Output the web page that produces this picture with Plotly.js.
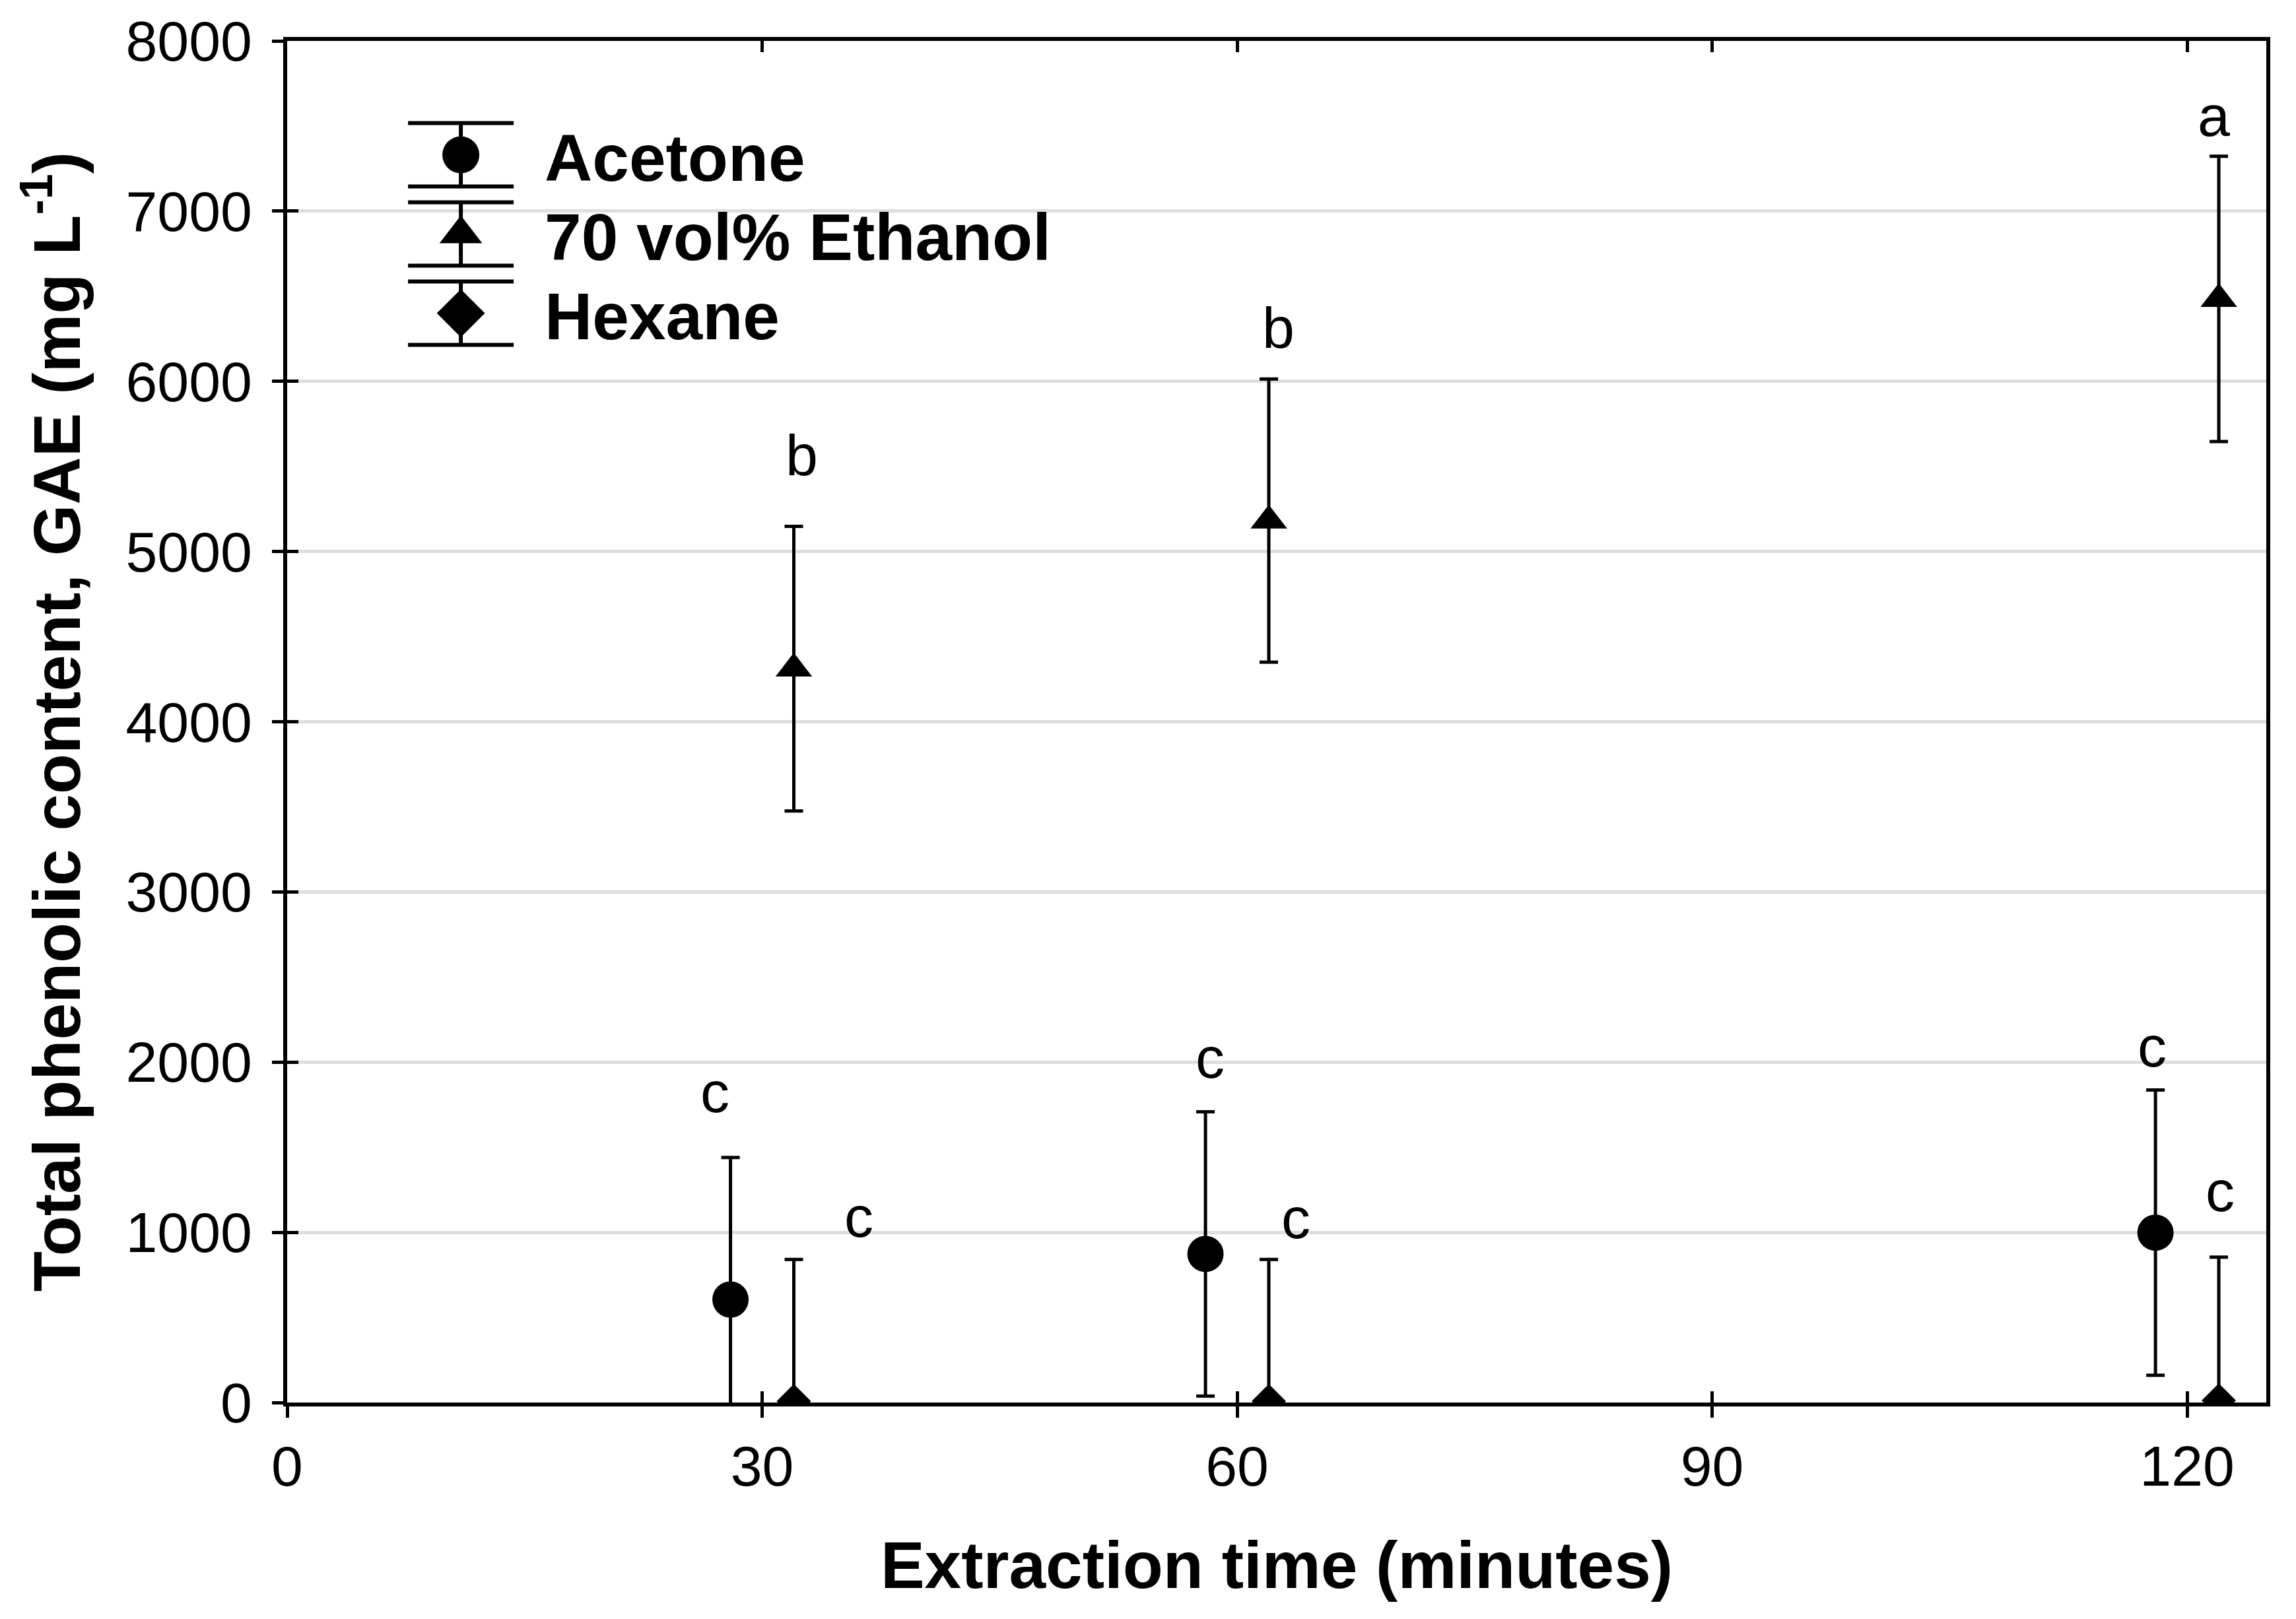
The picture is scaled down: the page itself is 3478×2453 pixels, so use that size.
<!DOCTYPE html>
<html>
<head>
<meta charset="utf-8">
<script src="https://cdn.plot.ly/plotly-3.0.1.min.js"></script>
<style>
  html, body { margin: 0; padding: 0; background: #fff; }
  #chart { width: 3478px; height: 2453px; }
</style>
</head>
<body>
<div id="chart"></div>
<script>
// extraction time (min) - points sit 2 min either side of 30/60/120 in the figure
var timeAcetone = [28, 58, 118];
var timeEthanol = [32, 62, 122];
var timeHexane = [32, 62, 122];

// total phenolic content, GAE (mg/L)
var acetone = [605, 873, 998];
var acetoneErr = [835, 835, 838];
var ethanol = [4312, 5182, 6484];
var ethanolErr = [836, 832, 838];
var hexane = [8, 8, 12];
var hexaneErr = [833, 833, 842];

// significance letters above the points
var letterText = ['c', 'c', 'b', 'c', 'c', 'b', 'c', 'c', 'a'];
var letterX = [27.0, 36.1, 32.5, 58.3, 63.7, 62.6, 117.8, 122.1, 121.7];
var letterY = [1825, 1092, 5565, 2028, 1082, 6316, 2093, 1243, 7558];

var xTicks = [0, 30, 60, 90, 120];
var yTicks = [0, 1000, 2000, 3000, 4000, 5000, 6000, 7000, 8000];
var xRange = [0, 125];
var yRange = [0, 8000];

var FONT = 'Liberation Sans, Arial, sans-serif';
var LEGEND_ROW = 120;

function seriesTrace(name, x, y, err, symbol, size) {
    return {
        type: 'scatter',
        mode: 'markers',
        name: name,
        x: x,
        y: y,
        marker: { symbol: symbol, size: size, color: '#000' },
        error_y: { type: 'data', array: err, visible: true, color: '#000', thickness: 5, width: 14 },
        cliponaxis: true
    };
}

var data = [
    seriesTrace('Acetone', timeAcetone, acetone, acetoneErr, 'circle', 55),
    seriesTrace('70 vol% Ethanol', timeEthanol, ethanol, ethanolErr, 'triangle-up', 48),
    seriesTrace('Hexane', timeHexane, hexane, hexaneErr, 'diamond', 40),
    // empty trace so the overlay axes (inner tick marks) get drawn
    { type: 'scatter', x: [], y: [], xaxis: 'x2', yaxis: 'y2', showlegend: false, hoverinfo: 'skip' }
];

var annotations = [];
for (let i = 0; i < letterText.length; i++) {
    annotations.push({
        x: letterX[i],
        y: letterY[i],
        xref: 'x',
        yref: 'y',
        text: letterText[i],
        showarrow: false,
        font: { family: FONT, size: 88, color: '#000' }
    })
}

var layout = {
    width: 3478,
    height: 2453,
    margin: { l: 435, r: 45, t: 62, b: 328 },
    paper_bgcolor: '#fff',
    plot_bgcolor: '#fff',
    font: { family: FONT, color: '#000' },
    showlegend: true,
    legend: {
        x: 0.0454,
        y: 0.951,
        xanchor: 'left',
        yanchor: 'top',
        bgcolor: 'rgba(0,0,0,0)',
        itemwidth: 244,
        font: { family: FONT, size: 100, weight: 'bold', color: '#000' }
    },
    xaxis: {
        range: xRange,
        tickvals: xTicks,
        ticks: 'outside',
        ticklen: 17,
        tickwidth: 5,
        tickcolor: '#000',
        ticklabelstandoff: 0,
        tickfont: { family: FONT, size: 86, color: '#000' },
        showline: true,
        linecolor: '#000',
        linewidth: 6,
        mirror: true,
        showgrid: false,
        zeroline: false,
        automargin: false,
        title: {
            text: 'Extraction time (minutes)',
            standoff: 70,
            font: { family: FONT, size: 100, weight: 'bold', color: '#000' }
        }
    },
    yaxis: {
        range: yRange,
        tickvals: yTicks,
        ticks: 'outside',
        ticklen: 17,
        tickwidth: 5,
        tickcolor: '#000',
        ticklabelstandoff: 13,
        tickfont: { family: FONT, size: 86, color: '#000' },
        showline: true,
        linecolor: '#000',
        linewidth: 6,
        mirror: true,
        showgrid: true,
        gridcolor: '#dedede',
        gridwidth: 5,
        zeroline: false,
        automargin: false,
        title: {
            text: 'Total phenolic content, GAE (mg L<sup>-1</sup>)',
            standoff: 37,
            font: { family: FONT, size: 100, weight: 'bold', color: '#000' }
        }
    },
    xaxis2: {
        overlaying: 'x',
        anchor: 'y2',
        side: 'bottom',
        range: xRange,
        tickvals: xTicks,
        ticks: 'inside',
        ticklen: 17,
        tickwidth: 5,
        tickcolor: '#000',
        showticklabels: false,
        showline: true,
        linecolor: '#000',
        linewidth: 6,
        mirror: 'ticks',
        showgrid: false,
        zeroline: false
    },
    yaxis2: {
        overlaying: 'y',
        anchor: 'x2',
        side: 'left',
        range: yRange,
        tickvals: yTicks,
        ticks: 'inside',
        ticklen: 17,
        tickwidth: 5,
        tickcolor: '#000',
        showticklabels: false,
        showline: true,
        linecolor: '#000',
        linewidth: 6,
        showgrid: false,
        zeroline: false
    },
    annotations: annotations
};

Plotly.newPlot('chart', data, layout, { staticPlot: true }).then(function (gd) {
    // the figure's legend shows full size symbols with their error bar, plotly caps legend symbols at 16px
    gd.querySelectorAll('.legend .legendpoints').forEach(function (g) {
        var pt = g.querySelector('path.scatterpts');
        if (!pt) return;
        var t = pt.getAttribute('transform') || '';
        var bar = document.createElementNS('http://www.w3.org/2000/svg', 'path');
        bar.setAttribute('d', 'M-80,-48H80M0,-48V48M-80,48H80');
        bar.setAttribute('transform', t);
        bar.setAttribute('style', 'stroke:#000;stroke-width:6;fill:none');
        pt.parentNode.insertBefore(bar, pt);
        pt.setAttribute('transform', t + ' scale(3.5)');
    });

    // rows in the original legend are packed a bit tighter than plotly's default
    var rows = gd.querySelectorAll('.legend .traces');
    if (rows.length) {
        var m = /translate\(([-\d.]+)[ ,]+([-\d.]+)\)/.exec(rows[0].getAttribute('transform') || '');
        if (m) {
            var x0 = parseFloat(m[1]), y0 = parseFloat(m[2]);
            rows.forEach(function (row, i) {
                row.setAttribute('transform', 'translate(' + x0 + ',' + (y0 + i * LEGEND_ROW) + ')');
            });
        }
    }
});
</script>
</body>
</html>
